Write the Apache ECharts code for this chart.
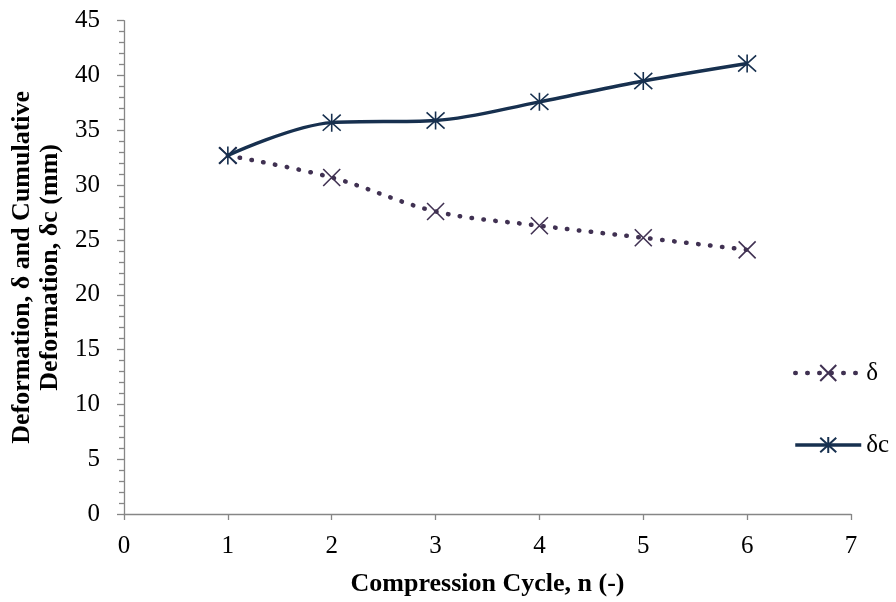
<!DOCTYPE html>
<html><head><meta charset="utf-8">
<script src="https://cdn.jsdelivr.net/npm/echarts@6/dist/echarts.min.js"></script>
<style>html,body{margin:0;padding:0;background:#fff}#c{width:896px;height:602px}</style>
</head><body><div id="c"></div>
<script>
const cycles = [1, 2, 3, 4, 5, 6];
const deltaVals = [32.7, 30.7, 27.6, 26.3, 25.2, 24.1];
const deltaCVals = [32.7, 35.7, 35.9, 37.6, 39.5, 41.1];
const seriesNames = ['δ', 'δc'];
const xTitle = 'Compression Cycle, n (-)';
const yTitle = 'Deformation, δ and Cumulative\nDeformation, δc (mm)';

const FONT = '"Liberation Serif", "Times New Roman", serif';
const AX = '#868686';
const C1 = '#403152';
const C2 = '#17304f';
const xSym = 'path://M0,0L10,10M10,0L0,10';
const aSym = 'path://M0.5,0.5L9.5,9.5M9.5,0.5L0.5,9.5M5,0L5,10';

const chart = echarts.init(document.getElementById('c'), null, {renderer: 'canvas'});
chart.setOption({
  backgroundColor: '#fff',
  animation: false,
  textStyle: {fontFamily: FONT},
  grid: {left: 124, right: 45, top: 20.7, bottom: 83.7, containLabel: false},
  legend: {
    orient: 'vertical', left: 788, top: 355.5, itemGap: 47, itemWidth: 66, itemHeight: 20,
    textStyle: {fontFamily: FONT, fontSize: 25, color: '#000', padding: [0,0,0,0]},
    data: [
      {name: seriesNames[0], lineStyle: {width: 4.5, type: [0.5, 11.5], cap: 'round', color: C1}},
      {name: seriesNames[1], lineStyle: {width: 3.4, color: C2}}
    ]
  },
  xAxis: {
    type: 'value', min: 0, max: 7, interval: 1,
    name: xTitle, nameLocation: 'middle', nameGap: 57,
    nameTextStyle: {fontFamily: FONT, fontSize: 26, fontWeight: 'bold', color: '#000'},
    axisLine: {show: true, lineStyle: {color: AX, width: 1.3}},
    axisTick: {show: true, inside: false, length: 6, lineStyle: {color: AX, width: 1.3}},
    axisLabel: {fontFamily: FONT, fontSize: 25, color: '#000', margin: 20},
    splitLine: {show: false}
  },
  yAxis: {
    type: 'value', min: 0, max: 45, interval: 5,
    name: yTitle, nameLocation: 'middle', nameGap: 56,
    nameTextStyle: {fontFamily: FONT, fontSize: 26, fontWeight: 'bold', color: '#000', lineHeight: 28, align: 'center'},
    axisLine: {show: true, lineStyle: {color: AX, width: 1.3}},
    axisTick: {show: true, inside: false, length: 7, lineStyle: {color: AX, width: 1.3}},
    minorTick: {show: true, splitNumber: 5, length: 5, lineStyle: {color: AX, width: 1.3}},
    axisLabel: {fontFamily: FONT, fontSize: 25, color: '#000', margin: 24},
    splitLine: {show: false}
  },
  series: [
    {
      name: seriesNames[0], type: 'line', smooth: 0.35,
      data: cycles.map((c, i) => [c, deltaVals[i]]),
      symbol: xSym, symbolSize: 17,
      lineStyle: {color: C1, width: 4.5, type: [0.5, 11.5], cap: 'round'},
      itemStyle: {color: C1, borderColor: C1, borderWidth: 1.6},
      z: 2
    },
    {
      name: seriesNames[1], type: 'line', smooth: 0.35,
      data: cycles.map((c, i) => [c, deltaCVals[i]]),
      symbol: aSym, symbolSize: 18,
      lineStyle: {color: C2, width: 3.4},
      itemStyle: {color: C2, borderColor: C2, borderWidth: 1.6},
      z: 3
    }
  ]
});
</script></body></html>
